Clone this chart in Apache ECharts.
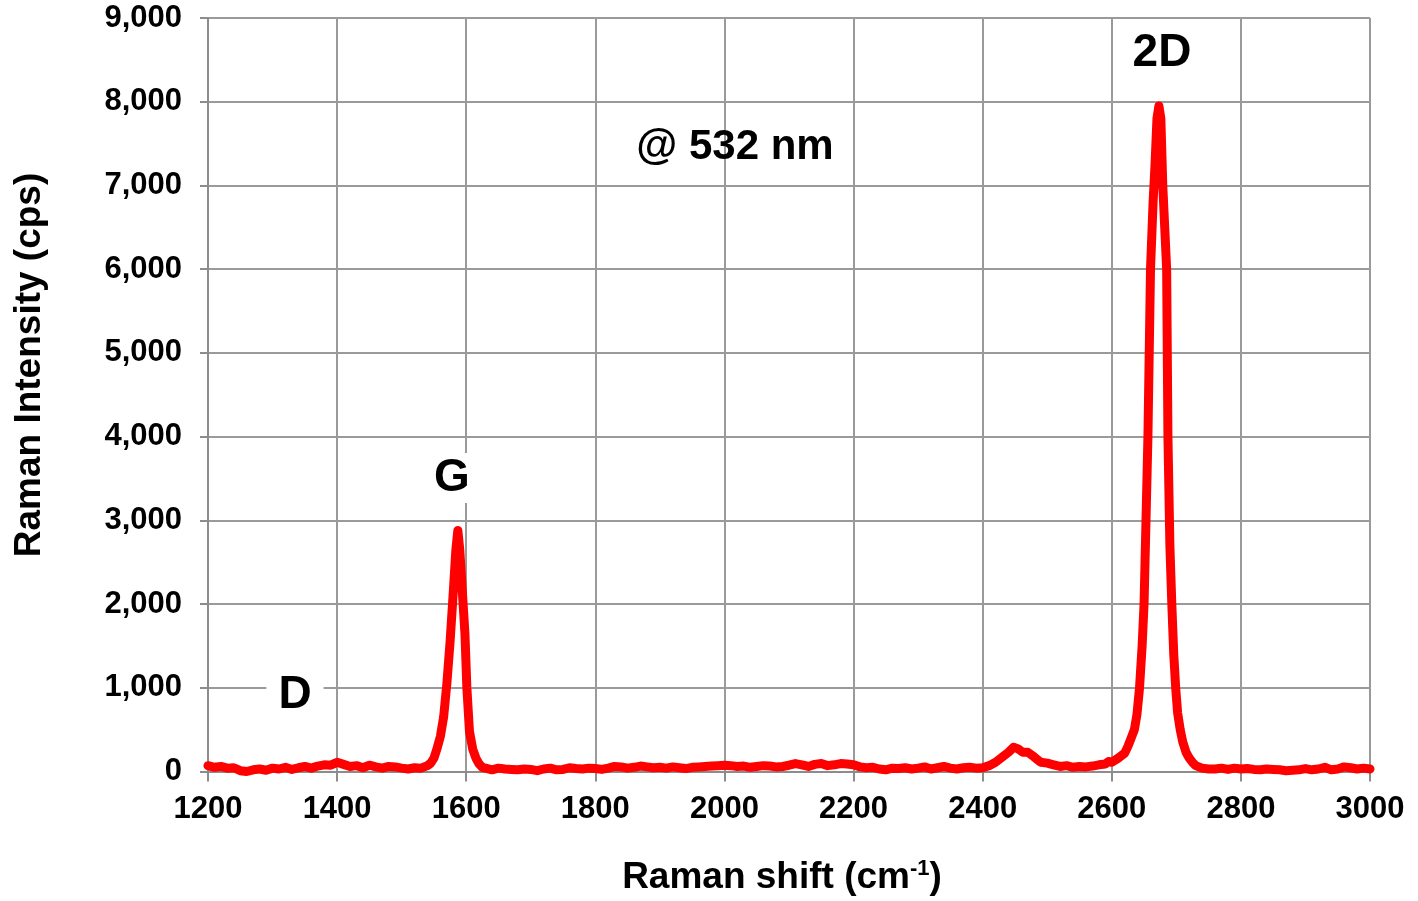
<!DOCTYPE html>
<html>
<head>
<meta charset="utf-8">
<script src="https://cdn.jsdelivr.net/npm/echarts@6/dist/echarts.min.js"></script>
<style>
html,body{margin:0;padding:0;background:#fff;}
#chart{width:1418px;height:901px;}
</style>
</head>
<body>
<div id="chart"></div>
<script>
// Raman shift (cm-1)
const shiftValues = [
  1200,1210,1220,1230,1240,1250,1260,1270,1280,1290,1300,1310,1320,1330,1340,1350,1360,1370,1380,1390,
  1400,1410,1420,1430,1440,1450,1460,1470,1480,1490,1500,1510,1520,1530,1540,1545,1550,1555,1560,1565,
  1570,1575,1580,1584,1587,1590,1594,1598,1601,1605,1610,1615,1620,1625,1630,1640,1650,1660,1670,1680,
  1690,1700,1710,1720,1730,1740,1750,1760,1770,1780,1790,1800,1810,1820,1830,1840,1850,1860,1870,1880,
  1890,1900,1910,1920,1930,1940,1950,1960,1970,1980,1990,2000,2010,2020,2030,2040,2050,2060,2070,2080,
  2090,2100,2110,2120,2130,2140,2150,2160,2170,2180,2190,2200,2210,2220,2230,2240,2250,2260,2270,2280,
  2290,2300,2310,2320,2330,2340,2350,2360,2370,2380,2390,2400,2410,2420,2430,2440,2448,2455,2462,2470,
  2477,2485,2490,2500,2510,2520,2530,2540,2550,2560,2570,2580,2590,2595,2600,2610,2620,2625,2630,2635,
  2639,2643,2647,2650,2653,2656,2660,2664,2667,2670,2673,2676,2679,2682,2685,2687,2690,2693,2696,2699,
  2702,2706,2710,2715,2720,2725,2730,2740,2750,2760,2770,2780,2790,2800,2810,2820,2830,2840,2850,2860,
  2870,2880,2890,2900,2910,2920,2930,2940,2950,2960,2970,2980,2990,3000
];
// Raman intensity (cps)
const intensityValues = [
  70,50,60,40,45,10,0,20,30,15,40,30,50,25,45,60,40,65,80,75,
  110,85,60,70,45,75,55,40,60,55,40,30,45,40,70,100,160,280,420,650,
  1050,1550,2150,2650,2880,2650,2150,1650,1000,480,270,160,90,50,40,20,40,30,25,20,
  30,25,10,30,40,20,25,45,35,30,40,35,25,40,60,55,40,50,65,55,
  45,50,40,55,45,35,50,55,60,65,70,75,70,60,65,50,60,70,65,55,
  60,75,95,80,60,85,95,70,80,95,90,80,55,45,50,30,20,40,35,45,
  30,40,55,30,45,60,40,30,45,50,40,45,70,110,170,230,290,270,230,230,
  190,140,110,100,80,60,70,50,60,55,65,80,90,120,110,160,220,300,400,500,
  680,1000,1500,2000,3000,4000,6000,6800,7250,7800,7950,7800,7000,6500,6000,4000,2700,2000,1400,1000,
  700,500,350,230,160,110,70,40,30,30,40,25,40,30,35,25,20,30,25,20,
  10,15,20,35,20,30,50,20,30,55,45,30,40,30
];
const yTickValues = [0,1000,2000,3000,4000,5000,6000,7000,8000,9000];
const xTickValues = [1200,1400,1600,1800,2000,2200,2400,2600,2800,3000];

const seriesData = shiftValues.map((x, i) => [x, intensityValues[i]]);
const FONT = '"Liberation Sans", Arial, sans-serif';
const chart = echarts.init(document.getElementById('chart'), null, {renderer: 'canvas'});

const option = {
  animation: false,
  backgroundColor: '#ffffff',
  grid: {left: 208, right: 48, top: 18, bottom: 124, containLabel: false},
  xAxis: {
    type: 'value',
    min: 1200, max: 3000, interval: 200,
    name: 'Raman shift (cm{sup|-1})',
    nameLocation: 'middle',
    nameGap: 86,
    nameTextStyle: {
      fontFamily: FONT, fontWeight: 'bold', fontSize: 37, color: '#000',
      padding: [0, 14, 0, 0],
      rich: {sup: {fontFamily: FONT, fontWeight: 'bold', fontSize: 22, color: '#000', padding: [0,0,18,0]}}
    },
    axisLine: {show: true, lineStyle: {color: '#8c8c8c', width: 2}},
    axisTick: {show: true, length: 10, lineStyle: {color: '#8c8c8c', width: 2}},
    splitLine: {show: true, lineStyle: {color: '#9a9a9a', width: 2}},
    axisLabel: {
      margin: 22, fontFamily: FONT, fontWeight: 'bold', fontSize: 31, color: '#000',
      formatter: v => xTickValues.includes(v) ? String(v) : ''
    }
  },
  yAxis: {
    type: 'value',
    min: 0, max: 9000, interval: 1000,
    axisLine: {show: true, lineStyle: {color: '#8c8c8c', width: 2}},
    axisTick: {show: true, length: 8, lineStyle: {color: '#8c8c8c', width: 2}},
    splitLine: {show: true, lineStyle: {color: '#9a9a9a', width: 2}},
    axisLabel: {
      margin: 26, fontFamily: FONT, fontWeight: 'bold', fontSize: 31, color: '#000',
      formatter: v => yTickValues.includes(v) ? v.toLocaleString('en-US') : ''
    }
  },
  series: [{
    type: 'line',
    data: seriesData,
    showSymbol: false,
    symbol: 'none',
    lineStyle: {color: '#ff0000', width: 9, cap: 'round', join: 'round'},
    z: 5
  }],
  graphic: [
    {type: 'text', x: 30, y: 365, rotation: Math.PI / 2, z: 10,
     style: {text: 'Raman Intensity (cps)', font: 'bold 37px ' + FONT, fill: '#000', align: 'center', verticalAlign: 'middle'}},
    {type: 'text', x: 1162, y: 53, z: 10,
     style: {text: '2D', font: 'bold 46px ' + FONT, fill: '#000', align: 'center', verticalAlign: 'middle', backgroundColor: '#fff', padding: [4, 18, 4, 18]}},
    {type: 'text', x: 452, y: 478, z: 10,
     style: {text: 'G', font: 'bold 46px ' + FONT, fill: '#000', align: 'center', verticalAlign: 'middle', backgroundColor: '#fff', padding: [2, 12, 2, 12]}},
    {type: 'text', x: 295, y: 695, z: 10,
     style: {text: 'D', font: 'bold 46px ' + FONT, fill: '#000', align: 'center', verticalAlign: 'middle', backgroundColor: '#fff', padding: [2, 12, 2, 12]}},
    {type: 'text', x: 735, y: 147, z: 10,
     style: {text: '@ 532 nm', font: 'bold 42px ' + FONT, fill: '#000', align: 'center', verticalAlign: 'middle'}}
  ]
};
chart.setOption(option);
</script>
</body>
</html>
